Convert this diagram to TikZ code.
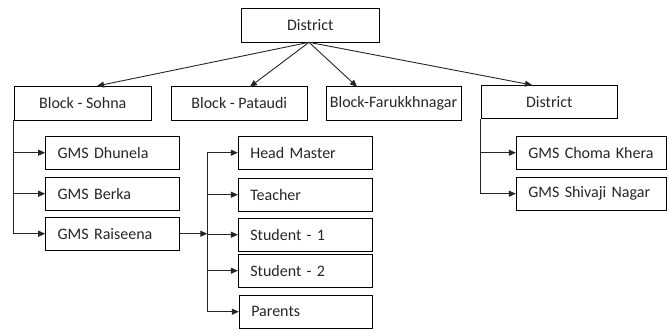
\documentclass[tikz,border=0pt]{standalone}
\usepackage{fontspec}
\setmainfont{Carlito}
\usetikzlibrary{arrows.meta,calc}
\begin{document}
\begin{tikzpicture}[x=1pt,y=-1pt,
  cbox/.style={draw=black,line width=0.9pt,minimum height=33.5pt,inner sep=0pt,font=\fontsize{16}{18}\selectfont,text=black!85},
  lbox/.style={cbox,text width=#1-24pt,align=left,inner xsep=12pt,minimum width=#1},
  mbox/.style={cbox,minimum width=#1},
  arr/.style={draw=black!85,line width=0.9pt,-{Triangle[length=7pt,width=6pt]}},
  ln/.style={draw=black!85,line width=0.9pt}]
\useasboundingbox (0,0) rectangle (669,333);
\node[mbox=137.3pt] (dist) at (310.3,25.2) {District};
\node[mbox=137.7pt] (sohna) at (82.8,103.2) {Block - Sohna};
\node[mbox=136.7pt] (pataudi) at (239.3,103.3) {Block - Pataudi};
\node[mbox=135pt] (faruk) at (393.5,103.3) {Block-Farukkhnagar};
\node[mbox=136.7pt] (dist2) at (549.3,102) {District};
\node[lbox=133.3pt] (dhun) at (112.3,152.7) {GMS Dhunela};
\node[lbox=133.3pt] (berka) at (112.3,193.7) {GMS Berka};
\node[lbox=133.3pt] (rais) at (112.3,233.7) {GMS Raiseena};
\node[lbox=134.4pt] (head) at (305.5,152.7) {Head Master};
\node[lbox=134.4pt] (teach) at (305.5,194.7) {Teacher};
\node[lbox=134.4pt] (st1) at (305.5,234.7) {Student - 1};
\node[lbox=134.4pt] (st2) at (305.5,270.7) {Student - 2};
\node[lbox=133.4pt] (par) at (306,311.7) {Parents};
\node[lbox=150.4pt] (choma) at (591.5,152.7) {GMS Choma Khera};
\node[lbox=150.4pt] (shiv) at (591.5,193.7) {GMS Shivaji Nagar};
% top arrows
\coordinate (src) at (309,42.3);
\coordinate (tS) at (97,86);
\coordinate (tP) at (250,86.7);
\coordinate (tF) at (357,86.7);
\coordinate (tD) at (532,85);
\draw[arr] (src) -- (tS);
\draw[arr] (src) -- (tP);
\draw[arr] (src) -- (tF);
\draw[arr] (src) -- (tD);
% left tree
\draw[arr] (sohna.south west) |- (dhun.west);
\draw[arr] (sohna.south west) |- (berka.west);
\draw[arr] (sohna.south west) |- (rais.west);
% staff tree
\coordinate (hub) at (207.3,233.7);
\draw[arr] (rais.east) -- (hub);
\draw[arr] (hub) |- (head.west);
\draw[arr] (hub) |- (teach.west);
\draw[arr] (hub) |- (st1.west);
\draw[arr] (hub) |- (st2.west);
\draw[arr] (hub) |- (par.west);
% right tree
\draw[arr] (dist2.south west) |- (choma.west);
\draw[arr] (dist2.south west) |- (shiv.west);
\end{tikzpicture}
\end{document}
